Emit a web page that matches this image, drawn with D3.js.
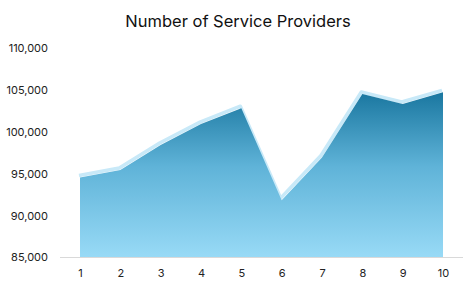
<!DOCTYPE html>
<html>
<head>
<meta charset="utf-8">
<script src="https://cdn.jsdelivr.net/npm/d3@7"></script>
<style>
  body { margin: 0; background: #fff; }
  text { font-family: Inter, "Open Sans", sans-serif; fill: #222; }
</style>
</head>
<body>
<svg id="chart" width="475" height="297"></svg>
<script>
// data
var periods = [1, 2, 3, 4, 5, 6, 7, 8, 9, 10];
var providers = [94500, 95400, 98400, 100900, 102800, 91800, 96900, 104500, 103300, 104700];
var yTicks = [85000, 90000, 95000, 100000, 105000, 110000];

var svg = d3.select("#chart");
var margin = {top: 48, right: 12, bottom: 40, left: 60};
var width = 475 - margin.left - margin.right,
    height = 297 - margin.top - margin.bottom;

var x = d3.scalePoint().domain(periods).range([20, width - 20]);
var y = d3.scaleLinear().domain([85000, 110000]).range([height, 0]);

svg.append("text")
    .attr("x", 238).attr("y", 27)
    .attr("text-anchor", "middle")
    .style("font-size", "16.5px")
    .style("fill", "#111")
    .text("Number of Service Providers");

var defs = svg.append("defs");
var grad = defs.append("linearGradient")
    .attr("id", "fillGrad")
    .attr("x1", 0).attr("y1", 0).attr("x2", 0).attr("y2", 1);
grad.append("stop").attr("offset", "0%").attr("stop-color", "#1a77a0");
grad.append("stop").attr("offset", "45%").attr("stop-color", "#5fb3d8");
grad.append("stop").attr("offset", "100%").attr("stop-color", "#98daf6");

var g = svg.append("g").attr("transform", "translate(" + margin.left + "," + margin.top + ")");

// y axis labels
var yAxis = d3.axisLeft(y).tickValues(yTicks).tickSize(0).tickPadding(0)
    .tickFormat(d3.format(","));
g.append("g").attr("transform", "translate(-12,0)").call(yAxis)
    .call(function (s) { s.select(".domain").remove(); })
    .selectAll("text").style("font-size", "11px").attr("dy", "0.35em");

var data = periods.map(function (p, i) { return {p: p, v: providers[i]}; });

var area = d3.area()
    .x(function (d) { return x(d.p); })
    .y0(height)
    .y1(function (d) { return y(d.v); });

var line = d3.line()
    .x(function (d) { return x(d.p); })
    .y(function (d) { return y(d.v); });

// highlight line, drawn slightly above the area
g.append("path")
    .datum(data)
    .attr("d", line)
    .attr("transform", "translate(-1,-2)")
    .attr("fill", "none")
    .attr("stroke", "#c8e9f8")
    .attr("stroke-width", 3.5)
    .attr("stroke-linejoin", "round");

g.append("path")
    .datum(data)
    .attr("d", area)
    .attr("fill", "url(#fillGrad)");

// x axis
var xAxis = d3.axisBottom(x).tickSize(0).tickPadding(12);
var xg = g.append("g").attr("transform", "translate(0," + height + ")").call(xAxis);
xg.select(".domain").attr("stroke", "#d9d9d9").attr("d", "M0,0.5H" + width);
xg.selectAll("text").style("font-size", "11px");
</script>
</body>
</html>
